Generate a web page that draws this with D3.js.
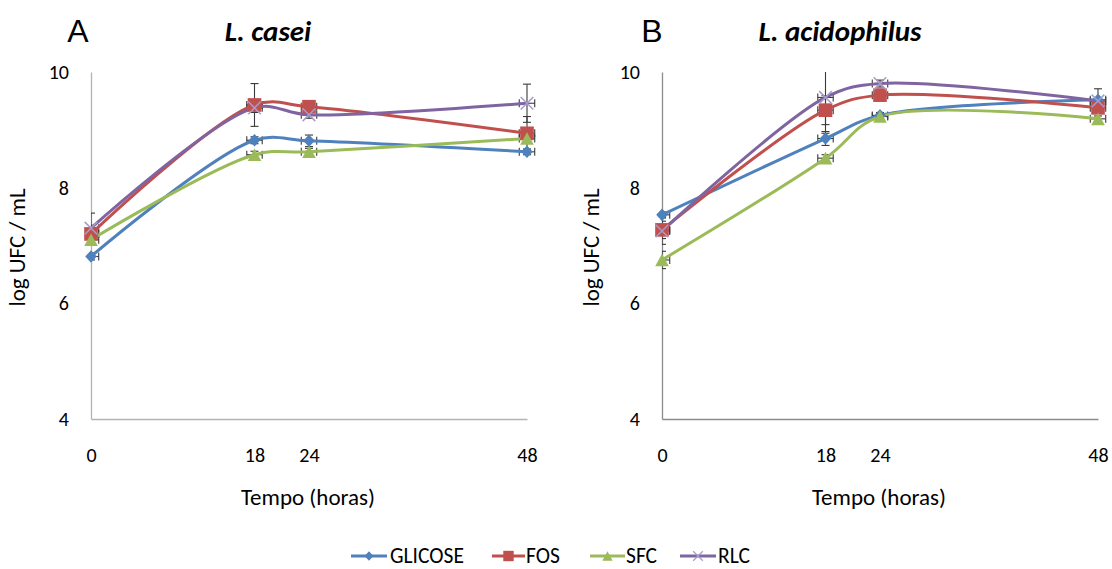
<!DOCTYPE html>
<html>
<head>
<meta charset="utf-8">
<script src="https://cdn.jsdelivr.net/npm/d3@7"></script>
<style>
  html, body { margin: 0; padding: 0; background: #fff; }
  svg { display: block; font-family: Carlito, Calibri, Lato, "Open Sans", sans-serif; }
</style>
</head>
<body>
<svg id="chart" width="1112" height="569"></svg>
<script>
// ---------- DATA ----------
const hours = [0, 18, 24, 48];
const seriesNames = ["GLICOSE", "FOS", "SFC", "RLC"];
const seriesColors = ["#4F81BD", "#C0504D", "#9BBB59", "#8064A2"];
const yTicks = [4, 6, 8, 10];
const xTicks = [0, 18, 24, 48];
const xErrHours = [0.85, 0.85, 0.85, 0.85];

// Panel A: L. casei
const caseiGlicose = [6.81, 8.82, 8.81, 8.62];
const caseiFos     = [7.20, 9.43, 9.40, 8.94];
const caseiSfc     = [7.10, 8.57, 8.62, 8.85];
const caseiRlc     = [7.30, 9.38, 9.26, 9.46];
const caseiGlicoseErr = [0.06, 0.06, 0.10, 0.05];
const caseiFosErr     = [0.15, 0.37, 0.06, 0.29];
const caseiSfcErr     = [0.08, 0.06, 0.06, 0.05];
const caseiRlcErr     = [0.26, 0.08, 0.06, 0.33];

// Panel B: L. acidophilus
const acidGlicose = [7.53, 8.85, 9.25, 9.52];
const acidFos     = [7.27, 9.34, 9.60, 9.38];
const acidSfc     = [6.75, 8.51, 9.23, 9.19];
const acidRlc     = [7.25, 9.56, 9.80, 9.50];
const acidGlicoseErr = [0.05, 0.12, 0.05, 0.19];
const acidFosErr     = [0.15, 0.25, 0.10, 0.05];
const acidSfcErr     = [0.15, 0.06, 0.05, 0.05];
const acidRlcErr     = [0.23, 0.62, 0.06, 0.05];

// ---------- DRAWING ----------
const svg = d3.select("#chart");
const FONT = 'Carlito, Calibri, Lato, "Open Sans", sans-serif';

const panels = [
  { letter: "A", title: "L. casei", left: 91, right: 527, axisColor: "#b3b3b3",
    letterX: 78, titleX: 268, yTitleX: 18,
    values: [caseiGlicose, caseiFos, caseiSfc, caseiRlc],
    errs: [caseiGlicoseErr, caseiFosErr, caseiSfcErr, caseiRlcErr] },
  { letter: "B", title: "L. acidophilus", left: 662, right: 1098, axisColor: "#8c8c8c",
    letterX: 652, titleX: 840, yTitleX: 592,
    values: [acidGlicose, acidFos, acidSfc, acidRlc],
    errs: [acidGlicoseErr, acidFosErr, acidSfcErr, acidRlcErr] }
];

const TOP = 72, BOTTOM = 419;

function markerPath(i, s) {
  if (i === 0) { const w = 5.5 * s, h = 6 * s; return `M0,${-h}L${w},0L0,${h}L${-w},0Z`; }
  if (i === 1) { const a = 6.5 * s; return `M${-a},${-a}H${a}V${a}H${-a}Z`; }
  if (i === 2) { const w = 6.5 * s, h = 6 * s; return `M0,${-h}L${w},${h}L${-w},${h}Z`; }
  const a = 6 * s; return `M${-a},${-a}L${a},${a}M${-a},${a}L${a},${-a}`;
}

panels.forEach((p, pi) => {
  const x = d3.scaleLinear().domain([0, 48]).range([p.left, p.right]);
  const y = d3.scaleLinear().domain([4, 10]).range([BOTTOM, TOP]);
  const g = svg.append("g");

  const clipId = "clip" + pi;
  svg.append("clipPath").attr("id", clipId).append("rect")
    .attr("x", p.left).attr("y", TOP).attr("width", p.right - p.left + 30).attr("height", BOTTOM - TOP);

  const yAxis = d3.axisLeft(y).tickValues(yTicks).tickSize(0).tickPadding(22).tickFormat(d3.format("d"));
  const yg = g.append("g").attr("transform", `translate(${p.left},0)`).call(yAxis);
  yg.select(".domain").attr("stroke", p.axisColor).attr("stroke-width", 1.3);
  yg.selectAll("text").attr("font-family", FONT).attr("font-size", 20).attr("fill", "#000");

  const xAxis = d3.axisBottom(x).tickValues(xTicks).tickSize(0).tickPadding(29).tickFormat(d3.format("d"));
  const xg = g.append("g").attr("transform", `translate(0,${BOTTOM})`).call(xAxis);
  xg.select(".domain").attr("stroke", p.axisColor).attr("stroke-width", 1.3);
  xg.selectAll("text").attr("font-family", FONT).attr("font-size", 20).attr("fill", "#000");

  g.append("text").attr("x", p.letterX).attr("y", 42).attr("text-anchor", "middle")
    .attr("font-family", "Liberation Sans, Arial, sans-serif").attr("font-size", 32).text(p.letter);
  g.append("text").attr("x", p.titleX).attr("y", 41).attr("text-anchor", "middle")
    .attr("font-family", FONT).attr("font-size", 29).attr("font-weight", "bold")
    .attr("font-style", "italic").text(p.title);
  g.append("text").attr("transform", `translate(${p.yTitleX + 7},${(TOP + BOTTOM) / 2 + 2}) rotate(-90)`)
    .attr("text-anchor", "middle").attr("font-family", FONT).attr("font-size", 23).text("log UFC / mL");
  g.append("text").attr("x", (p.left + p.right) / 2 - 1).attr("y", 505).attr("text-anchor", "middle")
    .attr("font-family", FONT).attr("font-size", 23).text("Tempo (horas)");

  const clipped = g.append("g").attr("clip-path", `url(#${clipId})`);

  p.values.forEach((vals, si) => {
    vals.forEach((v, k) => {
      const e = p.errs[si][k];
      const cx = x(hours[k]), cy = y(v);
      const y1 = y(v + e), y2 = y(v - e);
      const eg = clipped.append("g").attr("stroke", "#3a3a3a").attr("stroke-width", 1.1);
      eg.append("line").attr("x1", cx).attr("x2", cx).attr("y1", y1).attr("y2", y2);
      eg.append("line").attr("x1", cx - 4).attr("x2", cx + 4).attr("y1", y1).attr("y2", y1);
      eg.append("line").attr("x1", cx - 4).attr("x2", cx + 4).attr("y1", y2).attr("y2", y2);
      const xe = xErrHours[k];
      const xl = x(hours[k] - xe), xr = x(hours[k] + xe);
      eg.append("line").attr("x1", xl).attr("x2", xr).attr("y1", cy).attr("y2", cy);
      eg.append("line").attr("x1", xl).attr("x2", xl).attr("y1", cy - 4).attr("y2", cy + 4);
      eg.append("line").attr("x1", xr).attr("x2", xr).attr("y1", cy - 4).attr("y2", cy + 4);
    });
  });

  const line = d3.line().x(d => x(d[0])).y(d => y(d[1])).curve(d3.curveCatmullRom.alpha(0.5));
  p.values.forEach((vals, si) => {
    g.append("path").datum(hours.map((h, k) => [h, vals[k]]))
      .attr("d", line).attr("fill", "none").attr("stroke", seriesColors[si])
      .attr("stroke-width", 3).attr("stroke-linejoin", "round");
  });

  p.values.forEach((vals, si) => {
    vals.forEach((v, k) => {
      const m = g.append("path").attr("d", markerPath(si, 1.05))
        .attr("transform", `translate(${x(hours[k])},${y(v)})`);
      if (si === 3) m.attr("fill", "none").attr("stroke", "#A99BC8").attr("stroke-width", 1.5);
      else m.attr("fill", seriesColors[si]);
    });
  });
});

// ---------- LEGEND ----------
const legendItems = [
  { x0: 351, x1: 387, tx: 390 },
  { x0: 492, x1: 525, tx: 526 },
  { x0: 590, x1: 625, tx: 626 },
  { x0: 680, x1: 716, tx: 718 }
];
const ly = 556;
const lg = svg.append("g");
seriesNames.forEach((name, i) => {
  const it = legendItems[i];
  lg.append("line").attr("x1", it.x0).attr("x2", it.x1).attr("y1", ly).attr("y2", ly)
    .attr("stroke", seriesColors[i]).attr("stroke-width", 3);
  const m = lg.append("path").attr("d", markerPath(i, 0.8))
    .attr("transform", `translate(${(it.x0 + it.x1) / 2},${ly})`);
  if (i === 3) m.attr("fill", "none").attr("stroke", "#A99BC8").attr("stroke-width", 1.3);
  else m.attr("fill", seriesColors[i]);
  lg.append("text").attr("x", it.tx).attr("y", ly + 7).attr("font-family", FONT)
    .attr("font-size", 21.5).text(name);
});
</script>
</body>
</html>
